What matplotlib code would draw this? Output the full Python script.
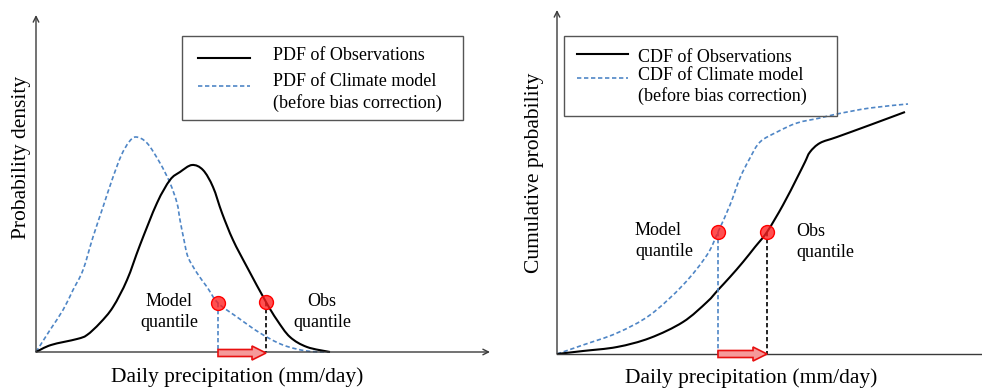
import matplotlib
matplotlib.use("Agg")
import matplotlib.pyplot as plt
from matplotlib.patches import Rectangle, FancyArrow, PathPatch
from matplotlib.path import Path

plt.rcParams['font.family'] = ['Liberation Serif', 'DejaVu Serif']

W, H = 982, 390

# ---- Left panel: probability density functions ----
pdf_model_x = [0, 14, 27, 37, 47, 57, 67, 76, 85, 93, 100, 111, 124, 134, 141, 144,
               148, 152, 161, 171, 182, 201, 224, 247, 271, 294]
pdf_model_y = [0, 22, 42, 62, 82, 115, 145, 172, 196, 210, 215, 209, 189, 169, 149,
               132, 112, 95, 79, 65, 49, 35, 19, 7, 1, 0]
pdf_obs_x = [0, 15, 41, 51, 64, 77, 91, 104, 121, 134, 144, 156, 167, 177, 186, 197,
             211, 230, 241, 254, 271, 294]
pdf_obs_y = [0, 7, 13, 17, 29, 45, 72, 107, 149, 172, 180, 187, 182, 165, 139, 112,
             85, 50, 32, 15, 5, 0]
pdf_quantile_x = [182, 230]   # model, obs
pdf_quantile_y = [49, 50]

# ---- Right panel: cumulative distribution functions ----
cdf_model_x = [0, 26, 60, 93, 126, 150, 161, 173, 183, 193, 203, 220, 240, 263, 280,
               313, 351]
cdf_model_y = [0, 9, 21, 39, 69, 99, 122, 149, 176, 196, 212, 222, 231, 236, 240,
               246, 250]
cdf_obs_x = [0, 26, 60, 93, 126, 150, 161, 173, 186, 198, 210, 226, 240, 248, 253,
             263, 280, 313, 348]
cdf_obs_y = [0, 3, 7, 16, 32, 52, 64, 77, 92, 107, 122, 149, 176, 192, 202, 211,
             217, 229, 242]
cdf_quantile_x = [161, 210]   # model, obs
cdf_quantile_y = [122, 122]

legend_pdf = ["PDF of Observations", "PDF of Climate model", "(before bias correction)"]
legend_cdf = ["CDF of Observations", "CDF of Climate model", "(before bias correction)"]
xlabel = "Daily precipitation (mm/day)"
ylabel_pdf = "Probability density"
ylabel_cdf = "Cumulative probability"

BLUE = '#4f86c6'
AXIS = '#3a3a3a'
DASH = (2.6, 1.6)
FS_LAB = 15.5
FS_TXT = 13

fig = plt.figure(figsize=(W / 100, H / 100), dpi=100)


def smooth_path(xs, ys):
    """Cubic Bezier path passing through every (x, y) pair (Catmull-Rom tangents)."""
    pts = list(zip(xs, ys))
    n = len(pts)
    verts = [pts[0]]
    codes = [Path.MOVETO]
    for i in range(n - 1):
        p0 = pts[max(i - 1, 0)]
        p1 = pts[i]
        p2 = pts[i + 1]
        p3 = pts[min(i + 2, n - 1)]
        c1 = (p1[0] + (p2[0] - p0[0]) / 6, p1[1] + (p2[1] - p0[1]) / 6)
        c2 = (p2[0] - (p3[0] - p1[0]) / 6, p2[1] - (p3[1] - p1[1]) / 6)
        verts += [c1, c2, p2]
        codes += [Path.CURVE4] * 3
    return Path(verts, codes)


def add_curve(ax, xs, ys, **kw):
    ax.add_patch(PathPatch(smooth_path(xs, ys), fill=False, capstyle='butt',
                           clip_on=False, **kw))


def add_panel(origin, right, top):
    ox, oy = origin
    ax = fig.add_axes([ox / W, (H - oy) / H, (right - ox) / W, (oy - top) / H])
    ax.set_xlim(0, right - ox)
    ax.set_ylim(0, oy - top)
    ax.set_axis_off()
    return ax


def draw_panel(ax, mx, my, ox_, oy_, qx, qy, arrow_x_head, legend, box, line_y,
               text_x, text_y, line_x, arrow_y):
    # axes
    ax.annotate('', xy=(0, 1), xytext=(0, 0), xycoords='axes fraction',
                arrowprops=dict(arrowstyle='->', color=AXIS, lw=1.0,
                                shrinkA=0, shrinkB=0), annotation_clip=False)
    if arrow_x_head:
        ax.annotate('', xy=(1, 0), xytext=(0, 0), xycoords='axes fraction',
                    arrowprops=dict(arrowstyle='->', color=AXIS, lw=1.0,
                                    shrinkA=0, shrinkB=0), annotation_clip=False)
    else:
        ax.plot([0, 1], [0, 0], color=AXIS, lw=1.0, transform=ax.transAxes,
                clip_on=False)

    # curves
    add_curve(ax, mx, my, edgecolor=BLUE, lw=1.2, linestyle=(0, DASH))
    add_curve(ax, ox_, oy_, edgecolor='black', lw=1.5)

    # quantile drop lines
    ax.plot([qx[0], qx[0]], [qy[0], 0], color=BLUE, lw=1.2, dashes=DASH)
    ax.plot([qx[1], qx[1]], [qy[1], 0], color='black', lw=1.2, dashes=DASH)

    # quantile markers
    ax.plot(qx, qy, 'o', ms=10, mfc=(1, 0.12, 0.12, 0.78), mec='#ff0000',
            mew=1.0, zorder=5, clip_on=False)

    # shift arrow
    ax.add_patch(FancyArrow(qx[0], arrow_y, qx[1] - qx[0], 0, width=7,
                            head_width=14, head_length=14,
                            length_includes_head=True, facecolor='#f59a9a',
                            edgecolor='#e81010', lw=1.2, zorder=6,
                            clip_on=False))

    # legend
    bx0, by0, bx1, by1 = box
    ax.add_patch(Rectangle((bx0, by0), bx1 - bx0, by1 - by0, fill=False,
                           edgecolor='#555555', lw=1.0))
    ax.plot(line_x, [line_y[0]] * 2, color='black', lw=1.5)
    ax.plot(line_x, [line_y[1]] * 2, color=BLUE, lw=1.2, dashes=DASH)
    for t, y in zip(legend, text_y):
        ax.text(text_x, y, t, fontsize=FS_TXT, va='center', ha='left')


ax1 = add_panel((36, 352), 490, 15)
draw_panel(ax1, pdf_model_x, pdf_model_y, pdf_obs_x, pdf_obs_y,
           pdf_quantile_x, pdf_quantile_y, True, legend_pdf,
           (146, 232, 427, 316), (294, 266), 237, (296, 271, 249), (162, 214), -1)
ax1.text(133, 40, "Model\nquantile", fontsize=FS_TXT, ha='center', va='center',
         multialignment='center', linespacing=1.25)
ax1.text(286, 40, "Obs\nquantile", fontsize=FS_TXT, ha='center', va='center',
         multialignment='center', linespacing=1.25)

ax2 = add_panel((557, 354), 982, 10)
draw_panel(ax2, cdf_model_x, cdf_model_y, cdf_obs_x, cdf_obs_y,
           cdf_quantile_x, cdf_quantile_y, False, legend_cdf,
           (7, 238, 280, 318), (300, 276), 81, (297, 279, 258), (20, 71), 0)
ax2.text(78, 113, "Model\nquantile", fontsize=FS_TXT, ha='left', va='center',
         multialignment='left', linespacing=1.25)
ax2.text(239, 112, "Obs\nquantile", fontsize=FS_TXT, ha='left', va='center',
         multialignment='left', linespacing=1.25)

# axis titles
fig.text(237 / W, 1 - 377 / H, xlabel, fontsize=FS_LAB, ha='center', va='center')
fig.text(751 / W, 1 - 378 / H, xlabel, fontsize=FS_LAB, ha='center', va='center')
fig.text(22 / W, 1 - 157 / H, ylabel_pdf, fontsize=FS_LAB, ha='center',
         va='center', rotation=90)
fig.text(534 / W, 1 - 173 / H, ylabel_cdf, fontsize=FS_LAB, ha='center',
         va='center', rotation=90)

fig.savefig("out.png", dpi=100)
